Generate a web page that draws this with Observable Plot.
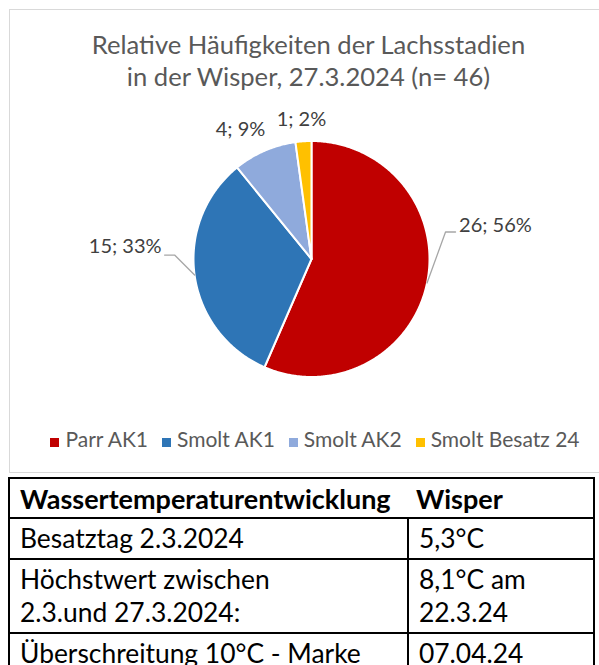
<!DOCTYPE html>
<html>
<head>
<meta charset="utf-8">
<script src="https://cdn.jsdelivr.net/npm/d3@7"></script>
<script src="https://cdn.jsdelivr.net/npm/@observablehq/plot@0.6"></script>
<style>
  html, body { margin: 0; padding: 0; background: #fff; }
  body { width: 599px; height: 665px; overflow: hidden; position: relative; font-family: "Lato", sans-serif; }
  #box { position: absolute; left: 9px; top: 9px; width: 640px; height: 464px; border: 1.5px solid #d9d9d9; box-sizing: border-box; }
  #title { position: absolute; left: 0; top: 28px; width: 617px; text-align: center; color: #595959; font-size: 25.6px; line-height: 32px; }
  #chart { position: absolute; left: 0; top: 100px; }
  #legend { position: absolute; left: 0; top: 427px; width: 630px; height: 24px; display: flex; justify-content: center; align-items: center; color: #595959; font-size: 21px; line-height: 24px; }
  #legend .item { display: flex; align-items: center; margin: 0 7px; }
  #legend .sw { width: 9px; height: 9px; margin-right: 6px; margin-top: 6px; }
  table { position: absolute; left: 8px; top: 477px; width: 587px; border-collapse: collapse; font-size: 26.4px; color: #000; }
  td { border: 2px solid #000; padding: 3px 10px 3px 10px; line-height: 33px; vertical-align: top; }
  td.c1 { width: 377px; }
  tr.h td { font-weight: bold; font-size: 27px; padding-bottom: 2px; }
  tr.h td.c1 { border-right: none; }
  tr.h td.c2 { border-left: none; padding-left: 8px; }
</style>
</head>
<body>
<div id="box"></div>
<div id="title"></div>
<div id="chart"></div>
<div id="legend"></div>
<table id="tbl"></table>
<script>
// ---- data ----
const titleLines = ["Relative Häufigkeiten der Lachsstadien", "in der Wisper, 27.3.2024 (n= 46)"];
const categories = ["Parr AK1", "Smolt AK1", "Smolt AK2", "Smolt Besatz 24"];
const counts = [26, 15, 4, 1];
const percents = [56, 33, 9, 2];
const colors = ["#C00000", "#2E75B6", "#8FAADC", "#FFC000"];
const tableHeader = ["Wassertemperaturentwicklung", "Wisper"];
const tableRows = [
  ["Besatztag 2.3.2024", "5,3°C"],
  ["Höchstwert zwischen<br>2.3.und 27.3.2024:", "8,1°C am<br>22.3.24"],
  ["Überschreitung 10°C - Marke", "07.04.24"]
];

// ---- layout (pixels) ----
const W = 599, H = 320;      // svg size
const cx = 311, cy = 158.5;  // pie centre in svg
const R = 118;               // pie radius
// label nudges relative to the slice's outer mid-point (px, screen y down)
const labelLayout = [
  {anchor: "start",  label: [32, -57], leader: [[18.5, -51], [28.5, -51]]},
  {anchor: "end",    label: [-33, -28], leader: [[-20, -20], [-30, -20]]},
  {anchor: "middle", label: [-24, -21], leader: null},
  {anchor: "middle", label: [-2, -22],  leader: null}
];

// ---- title / legend / table ----
document.getElementById("title").innerHTML = titleLines.join("<br>");
document.getElementById("legend").innerHTML = categories.map((c, i) =>
  `<span class="item"><span class="sw" style="background:${colors[i]}"></span>${c}</span>`).join("");
document.getElementById("tbl").innerHTML =
  `<tr class="h"><td class="c1">${tableHeader[0]}</td><td class="c2">${tableHeader[1]}</td></tr>` +
  tableRows.map(r => `<tr><td class="c1">${r[0]}</td><td class="c2">${r[1]}</td></tr>`).join("");

// ---- pie geometry from data ----
const arcs = d3.pie().sort(null).value(d => d)(counts);
const slicePts = [];
arcs.forEach((a, i) => {
  const cat = categories[i];
  slicePts.push({cat, x: 0, y: 0});
  const n = Math.max(2, Math.ceil((a.endAngle - a.startAngle) / (Math.PI / 360)));
  for (let k = 0; k <= n; k++) {
    const t = a.startAngle + (a.endAngle - a.startAngle) * k / n;
    slicePts.push({cat, x: Math.sin(t), y: Math.cos(t)});
  }
  slicePts.push({cat, x: 0, y: 0});
});

const labels = [], leaders = [];
arcs.forEach((a, i) => {
  const m = (a.startAngle + a.endAngle) / 2;
  const ex = Math.sin(m), ey = Math.cos(m);
  const L = labelLayout[i];
  labels.push({cat: categories[i], anchor: L.anchor,
    text: `${counts[i]}; ${percents[i]}%`,
    x: ex + L.label[0] / R, y: ey - L.label[1] / R});
  if (L.leader) {
    leaders.push({cat: categories[i], x: ex, y: ey});
    L.leader.forEach(p => leaders.push({cat: categories[i], x: ex + p[0] / R, y: ey - p[1] / R}));
  }
});

const textOpts = {x: "x", y: "y", text: "text", fill: "#404040", fontSize: 20, fontFamily: "Lato"};
const chart = Plot.plot({
  width: W, height: H, margin: 0,
  x: {domain: [-cx / R, (W - cx) / R], axis: null},
  y: {domain: [-(H - cy) / R, cy / R], axis: null},
  color: {domain: categories, range: colors},
  style: {background: "transparent", overflow: "visible"},
  marks: [
    Plot.line(slicePts, {x: "x", y: "y", z: "cat", fill: "cat", stroke: "white", strokeWidth: 2, curve: "linear"}),
    Plot.line(leaders, {x: "x", y: "y", z: "cat", stroke: "#a6a6a6", strokeWidth: 1.3, strokeLinejoin: "miter"}),
    Plot.text(labels.filter(d => d.anchor === "start"), {...textOpts, textAnchor: "start"}),
    Plot.text(labels.filter(d => d.anchor === "end"), {...textOpts, textAnchor: "end"}),
    Plot.text(labels.filter(d => d.anchor === "middle"), {...textOpts, textAnchor: "middle"})
  ]
});
document.getElementById("chart").appendChild(chart);
</script>
</body>
</html>
